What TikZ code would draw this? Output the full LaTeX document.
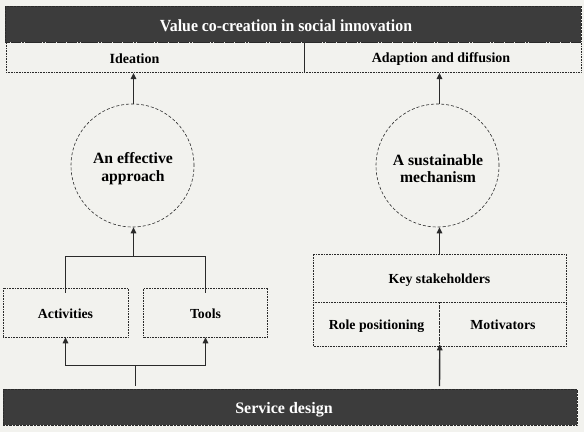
\documentclass[tikz,border=0pt]{standalone}
\usepackage{fontspec}
\setmainfont{Liberation Serif}
\newfontfamily\condserif[FakeStretch=0.93]{Liberation Serif}
\usetikzlibrary{arrows.meta}
\definecolor{bg}{HTML}{F2F2EE}
\definecolor{dark}{HTML}{3C3C3C}
\definecolor{ln}{HTML}{2A2A2A}
\begin{document}
\begin{tikzpicture}[x=1pt,y=-1pt,
  dotbox/.style={draw=ln, densely dotted, line width=0.6pt, rectangle, inner sep=0pt, text height=11pt, text depth=0pt, font=\bfseries\fontsize{13.8}{16}\selectfont},
  cell/.style={draw=ln, densely dotted, line width=0.6pt, rectangle, inner sep=0pt},
  lbl/.style={inner sep=0pt, text height=13pt, text depth=0pt, font=\bfseries\fontsize{14}{16}\selectfont},
  darkbar/.style={draw=ln, densely dotted, fill=dark, rectangle, inner sep=0pt},
  barlbl/.style={inner sep=0pt, text=white, text depth=0pt},
  dcircle/.style={draw=ln, densely dashed, line width=0.6pt, circle, inner sep=0pt, minimum size=123pt},
  clbl/.style={inner sep=0pt, align=center, font=\bfseries\fontsize{15.7}{17.5}\selectfont},
  conn/.style={draw=ln, line width=1.4pt},
  arr/.style={conn, -{Triangle[length=6pt,width=5.5pt]}}]
\useasboundingbox[fill=bg] (0,0) rectangle (584,432);
% top
\node[darkbar, minimum width=576pt, minimum height=36pt] (title) at (293,24) {};
\node[barlbl, text height=14pt, font=\condserif\bfseries\fontsize{17}{20}\selectfont] (titlet) at (286,24) {Value co-creation in social innovation};
\node[cell, minimum width=298pt, minimum height=30pt] (idea) at (155,57) {};
\node[cell, minimum width=277pt, minimum height=30pt] (adapt) at (442.5,57) {};
\node[lbl] (ideat) at (134.5,57) {Ideation};
\node[lbl] (adaptt) at (441,56) {Adaption and diffusion};
% circles
\node[dcircle] (eff) at (132.5,165.5) {};
\node[dcircle] (sus) at (437.5,165.5) {};
\node[clbl] (efft) at (133,168.5) {An effective\\approach};
\node[clbl] (sust) at (438,168.5) {A sustainable\\mechanism};
\coordinate (ideabot) at (133.5,73);
\coordinate (adaptbot) at (439.5,73);
\draw[arr] (133.5,0 |- eff.north) -- (ideabot);
\draw[arr] (439.5,0 |- sus.north) -- (adaptbot);
% left boxes
\node[dotbox, minimum width=125pt, minimum height=49pt] (act) at (65.5,312.5) {Activities};
\node[dotbox, minimum width=124pt, minimum height=49pt] (tools) at (205.5,312.5) {Tools};
\coordinate (bl) at (65.5,256.5);
\coordinate (br) at (205.5,256.5);
\coordinate (bm) at (133.5,256.5);
\draw[conn] ([yshift=-5pt]act.north) |- (bl) -- (br) -- ([yshift=-5pt]tools.north);
\draw[arr] (bm) -- (133.5,0 |- eff.south);
\coordinate (ll) at (65.5,365.5);
\coordinate (lr) at (205.5,365.5);
\coordinate (lm) at (135.5,365.5);
% service design
\node[darkbar, minimum width=574pt, minimum height=36pt] (serv) at (290,407) {};
\node[barlbl, text height=13pt, font=\bfseries\fontsize{16}{19}\selectfont] (servt) at (284,407) {Service design};
\draw[conn] (lm |- serv.north) ++(0,-3) -- (lm);
\draw[arr] (lm) -- (ll) -- (act.south);
\draw[arr] (lm) -- (lr) -- (tools.south);
% right boxes
\node[dotbox, minimum width=253pt, minimum height=48pt] (key) at (439.5,278) {Key stakeholders};
\node[dotbox, minimum width=126pt, minimum height=44pt] (role) at (376.5,324) {Role positioning};
\node[dotbox, minimum width=127pt, minimum height=44pt] (mot) at (503,324) {Motivators};
\draw[arr] (key.north) -- (439.5,0 |- sus.south);
\coordinate (rs) at (439.5,386);
\draw[arr] (rs) -- ([yshift=2pt]role.south east);
\end{tikzpicture}
\end{document}
